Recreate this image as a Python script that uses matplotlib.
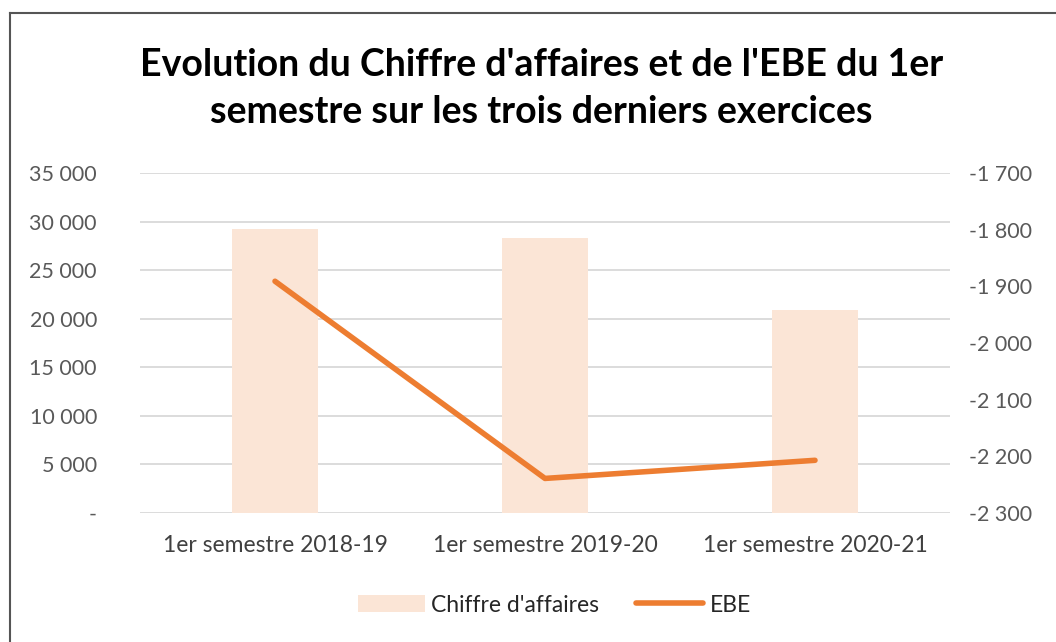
import matplotlib
matplotlib.use("Agg")
import matplotlib.pyplot as plt
from matplotlib.ticker import FuncFormatter
from matplotlib.lines import Line2D
from matplotlib.patches import Patch

plt.rcParams['font.family'] = ['Lato', 'DejaVu Sans']

categories = ["1er semestre 2018-19", "1er semestre 2019-20", "1er semestre 2020-21"]
chiffre_affaires = [29200, 28300, 20900]
ebe = [-1891, -2239, -2207]

bar_color = "#fbe5d6"
line_color = "#ed7d31"
grid_color = "#d9d9d9"
tick_color = "#595959"


def fmt_space(v, pos=None):
    if round(v) == 0:
        return "-"
    s = "{:,.0f}".format(abs(v)).replace(",", " ")
    return ("-" if v < 0 else "") + s


fig = plt.figure(figsize=(10.56, 6.42), dpi=100)
ax = fig.add_axes([140 / 1056, 1 - 513 / 642, 810 / 1056, 340 / 642])
x = range(len(categories))

ax.bar(x, chiffre_affaires, width=0.315, color=bar_color, zorder=2)
ax.set_ylim(0, 35000)
ax.set_yticks(range(0, 35001, 5000))
ax.yaxis.set_major_formatter(FuncFormatter(fmt_space))
ax.set_xlim(-0.5, 2.5)
ax.set_xticks(list(x))
ax.set_xticklabels(categories, fontsize=16.5, color="#404040")
ax.grid(axis="y", color=grid_color, linewidth=1.3, zorder=0)
ax.set_axisbelow(True)
for s in ax.spines.values():
    s.set_visible(False)
ax.tick_params(axis="both", length=0)
ax.tick_params(axis="y", labelsize=15.5, labelcolor=tick_color, pad=31)
ax.tick_params(axis="x", pad=16)

ax2 = ax.twinx()
ax2.plot(list(x), ebe, color=line_color, linewidth=4, solid_capstyle="round", zorder=3)
ax2.set_ylim(-2300, -1700)
ax2.set_yticks(range(-2300, -1699, 100))
ax2.yaxis.set_major_formatter(FuncFormatter(fmt_space))
for s in ax2.spines.values():
    s.set_visible(False)
ax2.tick_params(axis="y", length=0, labelsize=15.5, labelcolor=tick_color, pad=14)

fig.text(0.513, 1 - 65 / 642, "Evolution du Chiffre d'affaires et de l'EBE du 1er",
         ha="center", va="center", fontsize=27, fontweight="bold", color="black")
fig.text(0.513, 1 - 112 / 642, "semestre sur les trois derniers exercices",
         ha="center", va="center", fontsize=27, fontweight="bold", color="black")

handles = [Patch(facecolor=bar_color, edgecolor="none"),
           Line2D([0], [0], color=line_color, linewidth=4, solid_capstyle="round")]
fig.legend(handles, ["Chiffre d'affaires", "EBE"], loc="center",
           bbox_to_anchor=(0.525, 1 - 605 / 642), ncol=2, frameon=False,
           fontsize=16.5, handlelength=2.9, handletextpad=0.3, columnspacing=1.6,
           labelcolor="#262626")

# chart border (top and left edges visible)
fig.add_artist(Line2D([10 / 1056, 10 / 1056], [0, 1 - 13 / 642], color="#555555", lw=1.5))
fig.add_artist(Line2D([10 / 1056, 1], [1 - 13 / 642, 1 - 13 / 642], color="#555555", lw=1.5))

fig.savefig("out.png", dpi=100)
